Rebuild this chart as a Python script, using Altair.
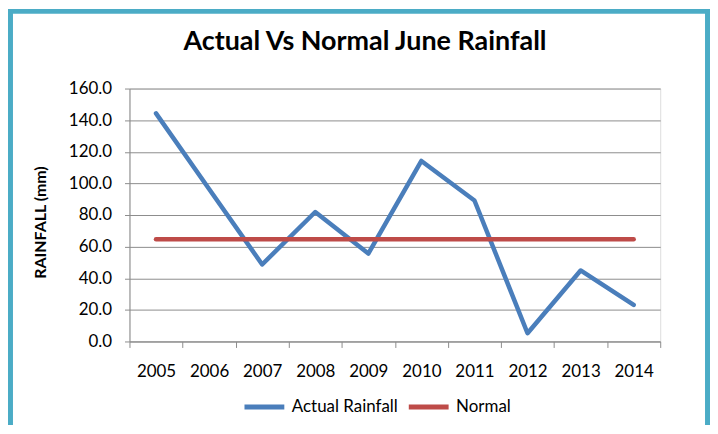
import altair as alt
import pandas as pd

years = ["2005", "2006", "2007", "2008", "2009", "2010", "2011", "2012", "2013", "2014"]
actual = [144.3, 96.5, 48.7, 81.9, 55.6, 114.2, 89.2, 5.2, 44.9, 23.1]
normal = [64.6, 64.6, 64.6, 64.6, 64.6, 64.6, 64.6, 64.6, 64.6, 64.6]
series_names = ["Actual Rainfall", "Normal"]
series_colors = ["#4A7EBB", "#BE4B48"]
y_ticks = [0, 20, 40, 60, 80, 100, 120, 140, 160]

df = pd.DataFrame({
    "Year": years + years,
    "Rainfall": actual + normal,
    "Series": [series_names[0]] * len(years) + [series_names[1]] * len(years),
})

GRID = "#8C8C8C"
FONT = "Lato"
W, H = 533, 254
FRAME = "#4BACC6"

lines = alt.Chart(df).mark_line(strokeWidth=4.5, strokeCap="round", strokeJoin="round").encode(
    x=alt.X(
        "Year:O",
        bandPosition=0.5,
        scale=alt.Scale(type="band", paddingInner=0, paddingOuter=0),
        axis=alt.Axis(
            title=None, tickBand="extent", labelAngle=0, labelFont=FONT,
            labelFontSize=17, labelColor="#000000", labelPadding=16,
            tickSize=6, tickColor=GRID, domainColor=GRID, grid=False,
        ),
    ),
    y=alt.Y(
        "Rainfall:Q",
        scale=alt.Scale(domain=[0, 160], nice=False),
        axis=alt.Axis(
            values=y_ticks, format=".1f", title="RAINFALL (mm)",
            titleFont=FONT, titleFontSize=16, titleFontWeight="bold",
            titleColor="#000000", titleX=-89, titleY=134, titleAlign="center",
            titleBaseline="middle", titleAngle=-90,
            labelFont=FONT, labelFontSize=17, labelColor="#000000",
            labelPadding=13, tickSize=5, tickColor=GRID, domainColor=GRID,
            gridColor=GRID, gridWidth=1,
        ),
    ),
    color=alt.Color(
        "Series:N",
        scale=alt.Scale(domain=series_names, range=series_colors),
        legend=alt.Legend(
            title=None, orient="none", legendX=113, legendY=297,
            direction="horizontal", symbolType="stroke", symbolStrokeWidth=5,
            symbolSize=1600, labelFont=FONT, labelFontSize=17,
            labelColor="#000000", columnPadding=0, labelOffset=5,
        ),
    ),
)

frame_df = pd.DataFrame({"f": [0]})
frame_left = alt.Chart(frame_df).mark_rule(color=FRAME, strokeWidth=5).encode(
    x=alt.value(-119.5), y=alt.value(-78), y2=alt.value(338)
)
frame_top = alt.Chart(frame_df).mark_rule(color=FRAME, strokeWidth=5).encode(
    x=alt.value(-122), x2=alt.value(583), y=alt.value(-77.5)
)
frame_right = alt.Chart(frame_df).mark_rule(color=FRAME, strokeWidth=5).encode(
    x=alt.value(580.5), y=alt.value(-80), y2=alt.value(338)
)

chart = alt.layer(lines, frame_left, frame_top, frame_right).properties(
    width=W,
    height=H,
    title=alt.TitleParams(
        "Actual Vs Normal June Rainfall", font=FONT, fontSize=27,
        fontWeight="bold", color="#000000", anchor="middle", dx=-30,
        offset=-71, frame="group", baseline="alphabetic",
    ),
    autosize=alt.AutoSizeParams(type="none"),
    padding={"left": 122, "top": 80, "right": 50, "bottom": 84},
).configure_view(stroke=None).configure(background="white")

chart.save("out.html", embed_options={"renderer": "svg", "actions": False})
